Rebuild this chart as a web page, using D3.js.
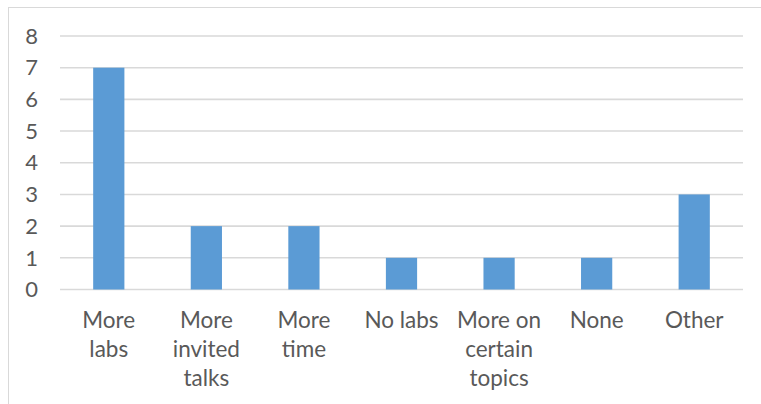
<!DOCTYPE html>
<html>
<head>
<meta charset="utf-8">
<script src="https://cdn.jsdelivr.net/npm/d3@7"></script>
<style>
  html, body { margin: 0; padding: 0; background: #fff; }
  svg { display: block; }
  text { font-family: Lato, "Liberation Sans", sans-serif; fill: #595959; }
</style>
</head>
<body>
<svg id="chart" width="761" height="404"></svg>
<script>
// Responses per suggestion
const categories = ["More labs", "More invited talks", "More time", "No labs",
                    "More on certain topics", "None", "Other"];
const counts = [7, 2, 2, 1, 1, 1, 3];
const yTicks = [0, 1, 2, 3, 4, 5, 6, 7, 8];

const svg = d3.select("#chart");
const W = 761, H = 404;
const plot = { left: 60, right: 743, top: 36, bottom: 289.5 };

// Outer chart frame (runs past the visible area on the right and bottom)
svg.append("rect")
  .attr("x", 8.5).attr("y", 7.5)
  .attr("width", W + 20).attr("height", H + 20)
  .attr("fill", "none").attr("stroke", "#d9d9d9").attr("stroke-width", 1);

const x = d3.scaleBand()
  .domain(categories)
  .range([plot.left, plot.right])
  .paddingInner(0.68)
  .paddingOuter(0.34);

const y = d3.scaleLinear()
  .domain([0, 8])
  .range([plot.bottom, plot.top]);

// Horizontal gridlines
svg.append("g")
  .selectAll("line")
  .data(yTicks)
  .join("line")
  .attr("x1", plot.left).attr("x2", plot.right)
  .attr("y1", d => y(d)).attr("y2", d => y(d))
  .attr("stroke", "#d9d9d9").attr("stroke-width", 1.6);

// Y tick labels
svg.append("g")
  .selectAll("text")
  .data(yTicks)
  .join("text")
  .attr("x", 38)
  .attr("y", d => y(d))
  .attr("dy", "0.35em")
  .attr("text-anchor", "end")
  .attr("font-size", 22)
  .text(d => d);

// Bars
svg.append("g")
  .selectAll("rect")
  .data(categories)
  .join("rect")
  .attr("x", d => x(d))
  .attr("width", x.bandwidth())
  .attr("y", (d, i) => y(counts[i]))
  .attr("height", (d, i) => y(0) - y(counts[i]))
  .attr("fill", "#5b9bd5");

// Category labels, wrapped to the band width
const maxLine = 90;
const lineH = 29;
const labels = svg.append("g")
  .selectAll("text")
  .data(categories)
  .join("text")
  .attr("text-anchor", "middle")
  .attr("font-size", 22.5)
  .attr("x", d => x(d) + x.bandwidth() / 2)
  .attr("y", 328);

labels.each(function(d) {
  const t = d3.select(this);
  const cx = +t.attr("x");
  const words = d.split(" ");
  let lines = [], cur = [];
  const probe = t.append("tspan");
  for (const w of words) {
    const test = cur.concat(w).join(" ");
    probe.text(test);
    if (cur.length && probe.node().getComputedTextLength() > maxLine) {
      lines.push(cur.join(" "));
      cur = [w];
    } else {
      cur.push(w);
    }
  }
  lines.push(cur.join(" "));
  probe.remove();
  lines.forEach((ln, i) => {
    t.append("tspan").attr("x", cx).attr("dy", i ? lineH : 0).text(ln);
  });
});
</script>
</body>
</html>
